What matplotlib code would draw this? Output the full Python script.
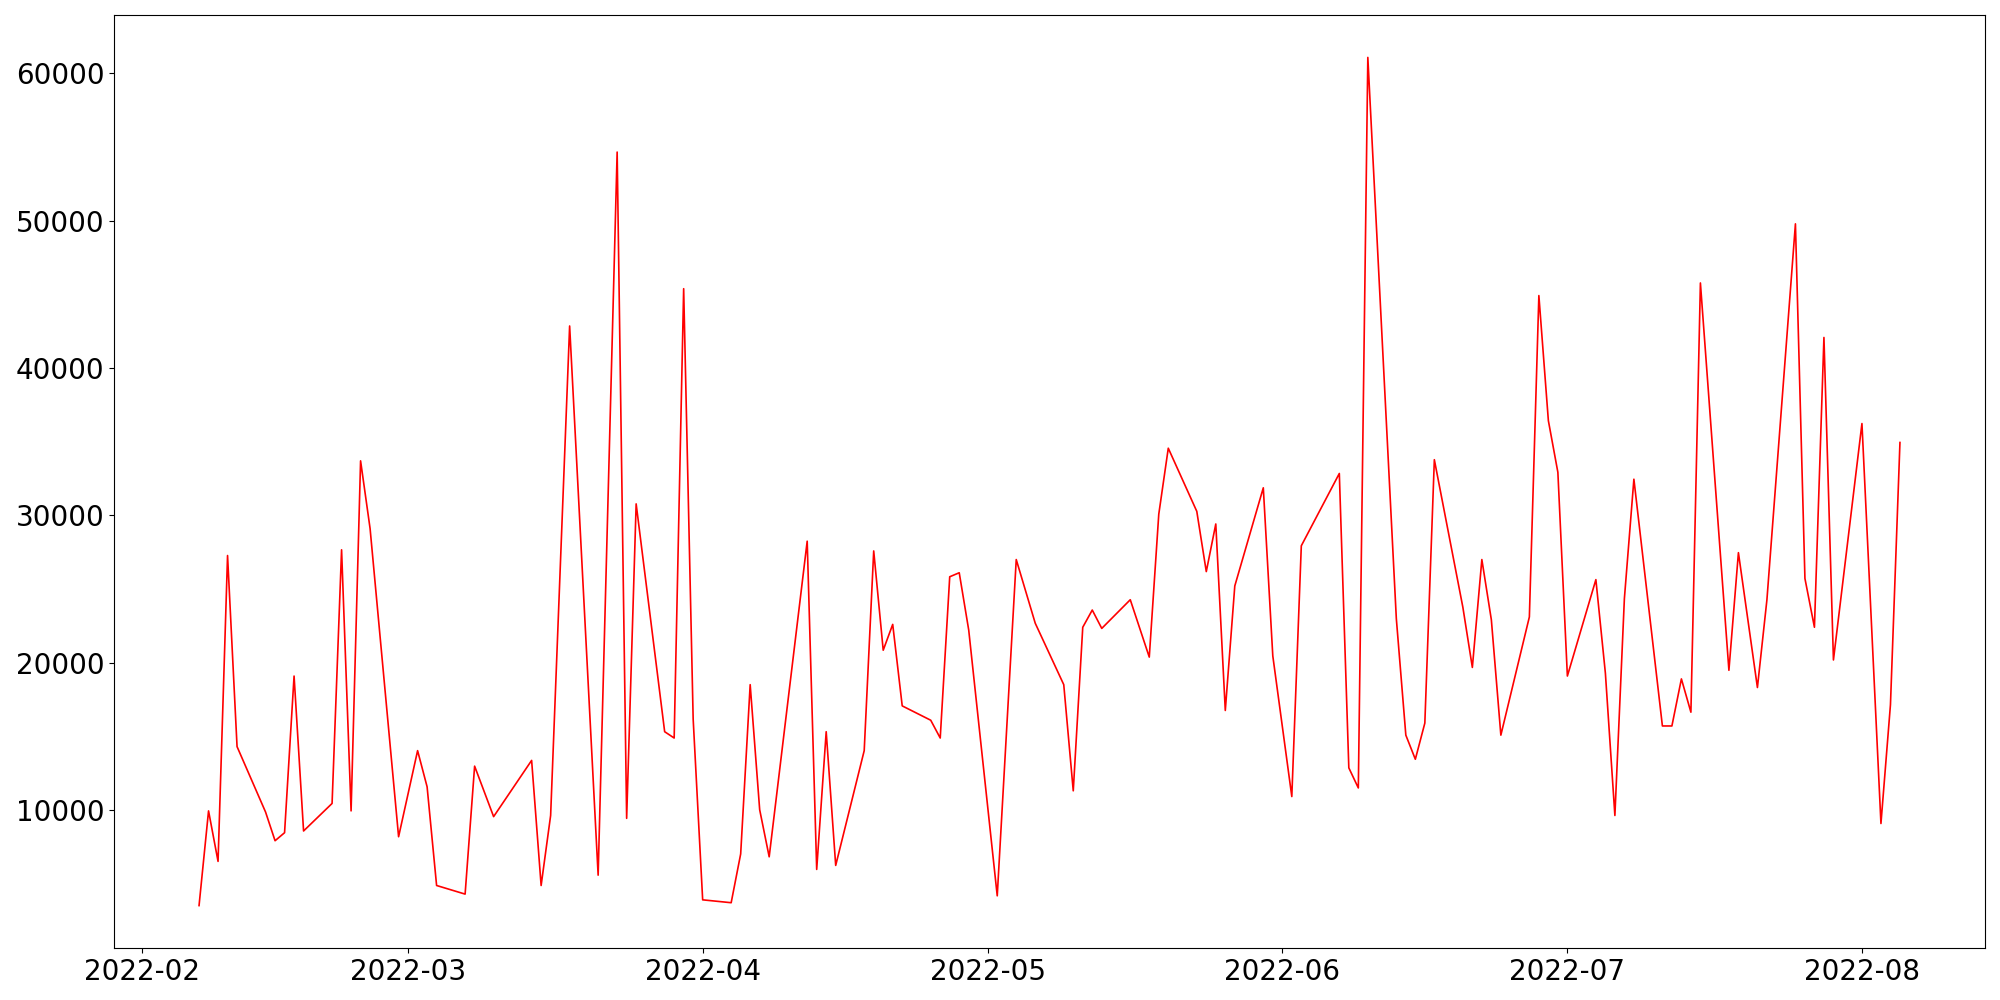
import matplotlib
matplotlib.use("Agg")
import matplotlib.pyplot as plt
import matplotlib.dates as mdates
import pandas as pd

dates = [
    "2022-02-07", "2022-02-08", "2022-02-09", "2022-02-10", "2022-02-11",
    "2022-02-14", "2022-02-15", "2022-02-16", "2022-02-17", "2022-02-18",
    "2022-02-21", "2022-02-22", "2022-02-23", "2022-02-24", "2022-02-25",
    "2022-02-28", "2022-03-02", "2022-03-03", "2022-03-04",
    "2022-03-07", "2022-03-08", "2022-03-10",
    "2022-03-14", "2022-03-15", "2022-03-16", "2022-03-18",
    "2022-03-21", "2022-03-23", "2022-03-24", "2022-03-25",
    "2022-03-28", "2022-03-29", "2022-03-30", "2022-03-31", "2022-04-01",
    "2022-04-04", "2022-04-05", "2022-04-06", "2022-04-07", "2022-04-08",
    "2022-04-12", "2022-04-13", "2022-04-14", "2022-04-15",
    "2022-04-18", "2022-04-19", "2022-04-20", "2022-04-21", "2022-04-22",
    "2022-04-25", "2022-04-26", "2022-04-27", "2022-04-28", "2022-04-29",
    "2022-05-02", "2022-05-04", "2022-05-06",
    "2022-05-09", "2022-05-10", "2022-05-11", "2022-05-12", "2022-05-13",
    "2022-05-16", "2022-05-18", "2022-05-19", "2022-05-20",
    "2022-05-23", "2022-05-24", "2022-05-25", "2022-05-26", "2022-05-27",
    "2022-05-30", "2022-05-31", "2022-06-02", "2022-06-03",
    "2022-06-07", "2022-06-08", "2022-06-09", "2022-06-10",
    "2022-06-13", "2022-06-14", "2022-06-15", "2022-06-16", "2022-06-17",
    "2022-06-20", "2022-06-21", "2022-06-22", "2022-06-23", "2022-06-24",
    "2022-06-27", "2022-06-28", "2022-06-29", "2022-06-30", "2022-07-01",
    "2022-07-04", "2022-07-05", "2022-07-06", "2022-07-07", "2022-07-08",
    "2022-07-11", "2022-07-12", "2022-07-13", "2022-07-14", "2022-07-15",
    "2022-07-18", "2022-07-19", "2022-07-21", "2022-07-22",
    "2022-07-25", "2022-07-26", "2022-07-27", "2022-07-28", "2022-07-29",
    "2022-08-01", "2022-08-03", "2022-08-04", "2022-08-05",
]

values = [
    3535, 9958, 6533, 27280, 14318,
    9880, 7934, 8479, 19105, 8596,
    10464, 27669, 9958, 33702, 29109,
    8206, 14045, 11593, 4898,
    4314, 12994, 9569,
    13383, 4898, 9647, 42850,
    5598, 54644, 9452, 30783,
    15330, 14901, 45380, 16186, 3925,
    3730, 7039, 18521, 10036, 6844,
    28253, 5988, 15330, 6260,
    14045, 27591, 20857, 22609, 17081,
    16108, 14901, 25839, 26112, 22219,
    4197, 27007, 22686,
    18521, 11320, 22414, 23582, 22336,
    24282, 20390, 30082, 34559,
    30277, 26190, 29420, 16770, 25217,
    31873, 20467, 10931, 27941,
    32846, 12877, 11515, 61067,
    22998, 15096, 13461, 15914, 33780,
    23776, 19689, 27007, 22920, 15096,
    23115, 44913, 36427, 32924, 19105,
    25645, 19300, 9647, 24360, 32457,
    15719, 15719, 18911, 16653, 45769,
    19495, 27474, 18327, 24282,
    49778, 25723, 22414, 42071, 20195,
    36232, 9102, 17159, 34948,
]

x = pd.to_datetime(dates)

fig = plt.figure(figsize=(20, 10), dpi=100)
ax = fig.add_axes([0.057, 0.052, 0.9355, 0.933])
ax.plot(x, values, color="red", linewidth=1.2)

ax.xaxis.set_major_locator(mdates.MonthLocator())
ax.xaxis.set_major_formatter(mdates.DateFormatter("%Y-%m"))
ax.tick_params(axis="both", labelsize=20)

fig.savefig("out.png", dpi=100)
